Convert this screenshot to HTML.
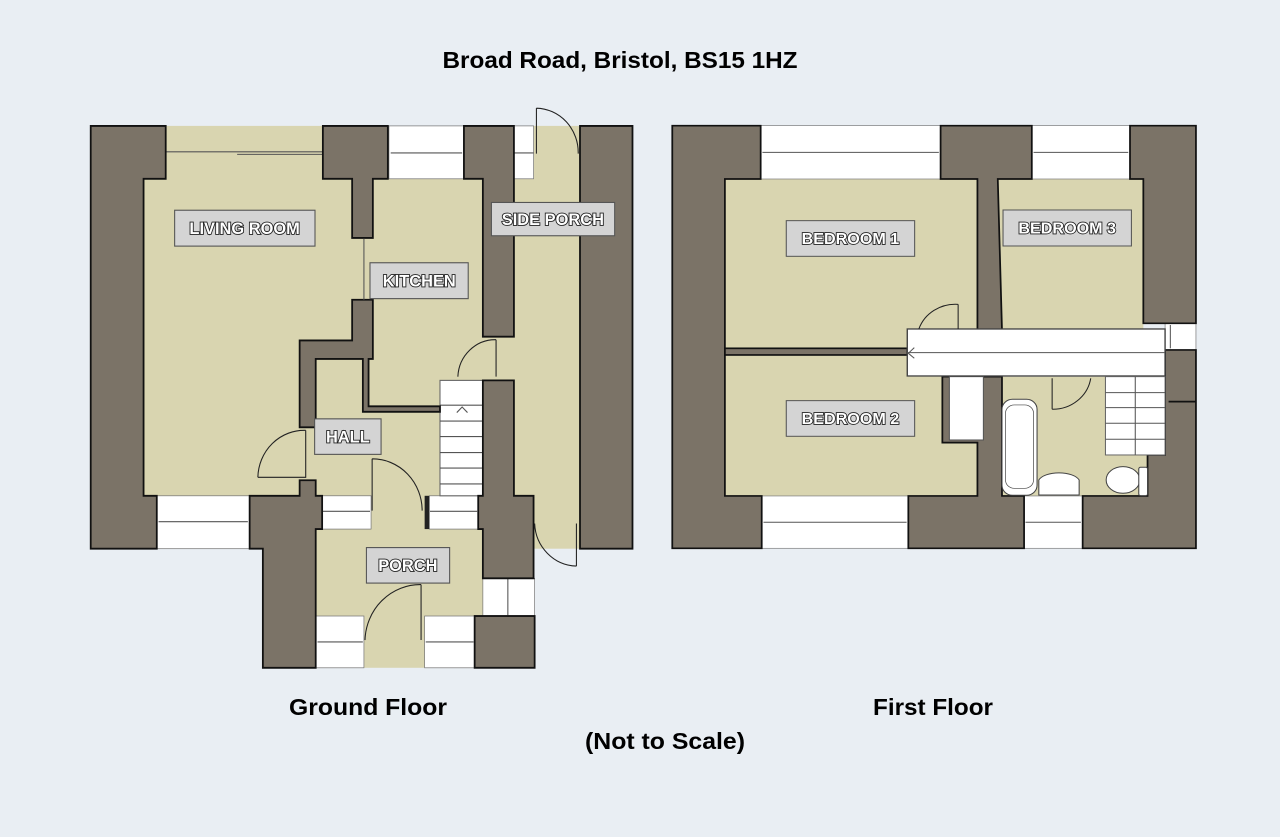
<!DOCTYPE html>
<html><head><meta charset="utf-8"><style>
html,body{margin:0;padding:0;background:#e9eef3;}
svg{display:block}
.t{font-family:"Liberation Sans",sans-serif;font-weight:bold;fill:#000}
.lb{fill:#d4d4d4;stroke:#555;stroke-width:3}
.lt{font-family:"Liberation Sans",sans-serif;font-weight:bold;fill:#fff;stroke:#222;stroke-width:5;paint-order:stroke;font-size:46px}
.w{fill:#7b7367;stroke:#111;stroke-width:5;stroke-linejoin:miter}
.f{fill:#d9d5b0}
.win{fill:#fff;stroke:#777;stroke-width:2}
.ln{stroke:#555;stroke-width:3;fill:none}
.door{stroke:#222;stroke-width:3;fill:none}
</style></head><body>
<svg width="1280" height="837" viewBox="0 0 1280 837" xmlns="http://www.w3.org/2000/svg">
<rect width="1280" height="837" fill="#e9eef3"/>
<text class="t" x="620" y="68" font-size="23" text-anchor="middle" textLength="355" lengthAdjust="spacingAndGlyphs">Broad Road, Bristol, BS15 1HZ</text>
<text class="t" x="368" y="715" font-size="23" text-anchor="middle" textLength="158" lengthAdjust="spacingAndGlyphs">Ground Floor</text>
<text class="t" x="933" y="715" font-size="23" text-anchor="middle" textLength="120" lengthAdjust="spacingAndGlyphs">First Floor</text>
<text class="t" x="665" y="749" font-size="23" text-anchor="middle" textLength="160" lengthAdjust="spacingAndGlyphs">(Not to Scale)</text>

<!-- GROUND FLOOR -->
<g transform="translate(80,100) scale(0.35714,0.3699)">
<rect class="f" x="178" y="70" width="1222" height="1143"/>
<rect class="f" x="660" y="1160" width="470" height="375"/>
<rect class="win" x="865" y="70" width="210" height="143"/><line class="ln" x1="870" y1="143" x2="1070" y2="143"/>
<rect class="win" x="1215" y="70" width="55" height="143"/><line class="ln" x1="1215" y1="143" x2="1270" y2="143"/>
<rect class="win" x="215" y="1070" width="260" height="143"/><line class="ln" x1="220" y1="1140" x2="470" y2="1140"/>
<rect class="win" x="678" y="1070" width="137" height="90"/><line class="ln" x1="680" y1="1112" x2="812" y2="1112"/>
<rect class="win" x="978" y="1070" width="137" height="90"/><line class="ln" x1="980" y1="1112" x2="1112" y2="1112"/>
<rect class="win" x="1128" y="1293" width="145" height="102"/><line class="ln" x1="1198" y1="1295" x2="1198" y2="1393"/>
<rect class="win" x="660" y="1395" width="135" height="140"/><line class="ln" x1="665" y1="1465" x2="792" y2="1465"/>
<rect class="win" x="965" y="1395" width="140" height="140"/><line class="ln" x1="968" y1="1465" x2="1102" y2="1465"/>
<line class="ln" x1="240" y1="140" x2="680" y2="140"/><line class="ln" x1="440" y1="147" x2="680" y2="147"/>
<rect x="1008" y="758" width="120" height="312" fill="#fff" stroke="#666" stroke-width="3"/>
<g class="ln"><line x1="1008" y1="825" x2="1128" y2="825"/><line x1="1008" y1="868" x2="1128" y2="868"/><line x1="1008" y1="910" x2="1128" y2="910"/><line x1="1008" y1="953" x2="1128" y2="953"/><line x1="1008" y1="995" x2="1128" y2="995"/><line x1="1008" y1="1038" x2="1128" y2="1038"/><polyline points="1055,845 1070,830 1085,845"/></g>
<polygon class="w" points="30,70 240,70 240,213 178,213 178,1070 215,1070 215,1213 30,1213"/>
<polygon class="w" points="680,70 862,70 862,213 820,213 820,373 762,373 762,213 680,213"/>
<polygon class="w" points="1075,70 1215,70 1215,640 1128,640 1128,213 1075,213"/>
<polygon class="w" points="1400,70 1547,70 1547,1213 1400,1213"/>
<polygon class="w" points="762,540 820,540 820,700 808,700 808,828 1008,828 1008,843 792,843 792,700 660,700 660,885 615,885 615,650 762,650"/>
<polygon class="w" points="615,1028 660,1028 660,1070 678,1070 678,1160 660,1160 660,1535 512,1535 512,1213 475,1213 475,1070 615,1070"/>
<polygon class="w" points="1128,758 1215,758 1215,1070 1270,1070 1270,1293 1128,1293 1128,1160 1115,1160 1115,1070 1128,1070"/>
<rect class="w" x="1105" y="1395" width="168" height="140"/>
<rect x="965" y="1070" width="13" height="90" fill="#222"/>
<path class="door" d="M632,893 L632,1020 L498,1020 M632,893 A130,130 0 0 0 498,1020"/>
<path class="door" d="M818,970 L818,1110 M818,970 A140,140 0 0 1 958,1110"/>
<path class="door" d="M955,1310 L955,1460 M955,1310 A155,155 0 0 0 798,1460"/>
<path class="door" d="M1165,648 L1165,748 M1165,648 A105,105 0 0 0 1058,748"/>
<path class="door" d="M1278,22 L1278,145 M1278,22 A120,120 0 0 1 1395,145"/>
<path class="door" d="M1390,1145 L1390,1260 M1273,1145 A120,120 0 0 0 1390,1260"/>
<line class="ln" x1="795" y1="375" x2="795" y2="540"/>
<rect class="lb" x="265" y="298" width="393" height="97"/><text class="lt" x="461" y="362" text-anchor="middle">LIVING ROOM</text>
<rect class="lb" x="812" y="440" width="275" height="97"/><text class="lt" x="950" y="504" text-anchor="middle">KITCHEN</text>
<rect class="lb" x="1152" y="277" width="345" height="90"/><text class="lt" x="1324" y="338" text-anchor="middle">SIDE PORCH</text>
<rect class="lb" x="657" y="862" width="186" height="96"/><text class="lt" x="750" y="926" text-anchor="middle">HALL</text>
<rect class="lb" x="802" y="1210" width="233" height="96"/><text class="lt" x="918" y="1274" text-anchor="middle">PORCH</text>
</g>

<!-- FIRST FLOOR -->
<g transform="translate(660,110) scale(0.35075,0.3333)">
<rect class="f" x="185" y="207" width="720" height="508"/>
<rect class="f" x="965" y="207" width="413" height="453"/>
<rect class="f" x="185" y="735" width="720" height="423"/>
<rect class="f" x="975" y="800" width="415" height="358"/>
<rect class="win" x="287" y="47" width="513" height="160"/><line class="ln" x1="292" y1="127" x2="795" y2="127"/>
<rect class="win" x="1060" y="47" width="280" height="160"/><line class="ln" x1="1065" y1="127" x2="1335" y2="127"/>
<rect class="win" x="290" y="1158" width="418" height="157"/><line class="ln" x1="295" y1="1237" x2="703" y2="1237"/>
<rect class="win" x="1038" y="1158" width="167" height="157"/><line class="ln" x1="1042" y1="1237" x2="1200" y2="1237"/>
<rect class="win" x="1440" y="640" width="88" height="80"/><line class="ln" x1="1455" y1="645" x2="1455" y2="715"/>
<polygon class="w" points="35,47 287,47 287,207 185,207 185,1158 290,1158 290,1315 35,1315"/>
<polygon class="w" points="800,47 1060,47 1060,207 963,207 975,660 905,660 905,207 800,207"/>
<polygon class="w" points="1340,47 1528,47 1528,640 1378,640 1378,207 1340,207"/>
<polygon class="w" points="1440,720 1528,720 1528,1315 1205,1315 1205,1158 1390,1158 1390,1035 1440,1035"/>
<line x1="1450" y1="875" x2="1528" y2="875" stroke="#111" stroke-width="5"/>
<polygon class="w" points="805,800 975,800 975,1158 1038,1158 1038,1315 708,1315 708,1158 905,1158 905,998 805,998"/>
<rect class="w" x="185" y="715" width="520" height="20"/>
<rect x="825" y="800" width="97" height="190" fill="#fff" stroke="#555" stroke-width="3"/>
<rect x="705" y="657" width="735" height="141" fill="#fff" stroke="#444" stroke-width="4"/>
<line class="ln" x1="705" y1="728" x2="1440" y2="728"/>
<polyline class="ln" points="725,713 708,730 725,745"/>
<rect x="1270" y="800" width="170" height="235" fill="#fff" stroke="#666" stroke-width="3"/>
<g class="ln"><line x1="1270" y1="848" x2="1440" y2="848"/><line x1="1270" y1="893" x2="1440" y2="893"/><line x1="1270" y1="940" x2="1440" y2="940"/><line x1="1270" y1="988" x2="1440" y2="988"/><line x1="1355" y1="800" x2="1355" y2="1035"/></g>
<path class="door" d="M850,583 L850,657 M850,583 A110,110 0 0 0 738,657"/>
<path class="door" d="M1118,805 L1118,898 M1228,805 A110,110 0 0 1 1118,898"/>
<rect x="975" y="868" width="100" height="288" rx="30" fill="#fff" stroke="#444" stroke-width="3"/>
<rect x="985" y="885" width="80" height="250" rx="25" fill="none" stroke="#444" stroke-width="2"/>
<path d="M1080,1155 L1080,1110 A60,30 0 0 1 1195,1110 L1195,1155 Z" fill="#fff" stroke="#444" stroke-width="3"/>
<ellipse cx="1320" cy="1110" rx="48" ry="40" fill="#fff" stroke="#444" stroke-width="3"/>
<rect x="1365" y="1072" width="25" height="85" rx="5" fill="#fff" stroke="#444" stroke-width="3"/>
<rect class="lb" x="360" y="332" width="366" height="107"/><text class="lt" x="543" y="402" text-anchor="middle">BEDROOM 1</text>
<rect class="lb" x="978" y="300" width="366" height="108"/><text class="lt" x="1161" y="370" text-anchor="middle">BEDROOM 3</text>
<rect class="lb" x="360" y="872" width="366" height="107"/><text class="lt" x="543" y="942" text-anchor="middle">BEDROOM 2</text>
</g>
</svg>
</body></html>
